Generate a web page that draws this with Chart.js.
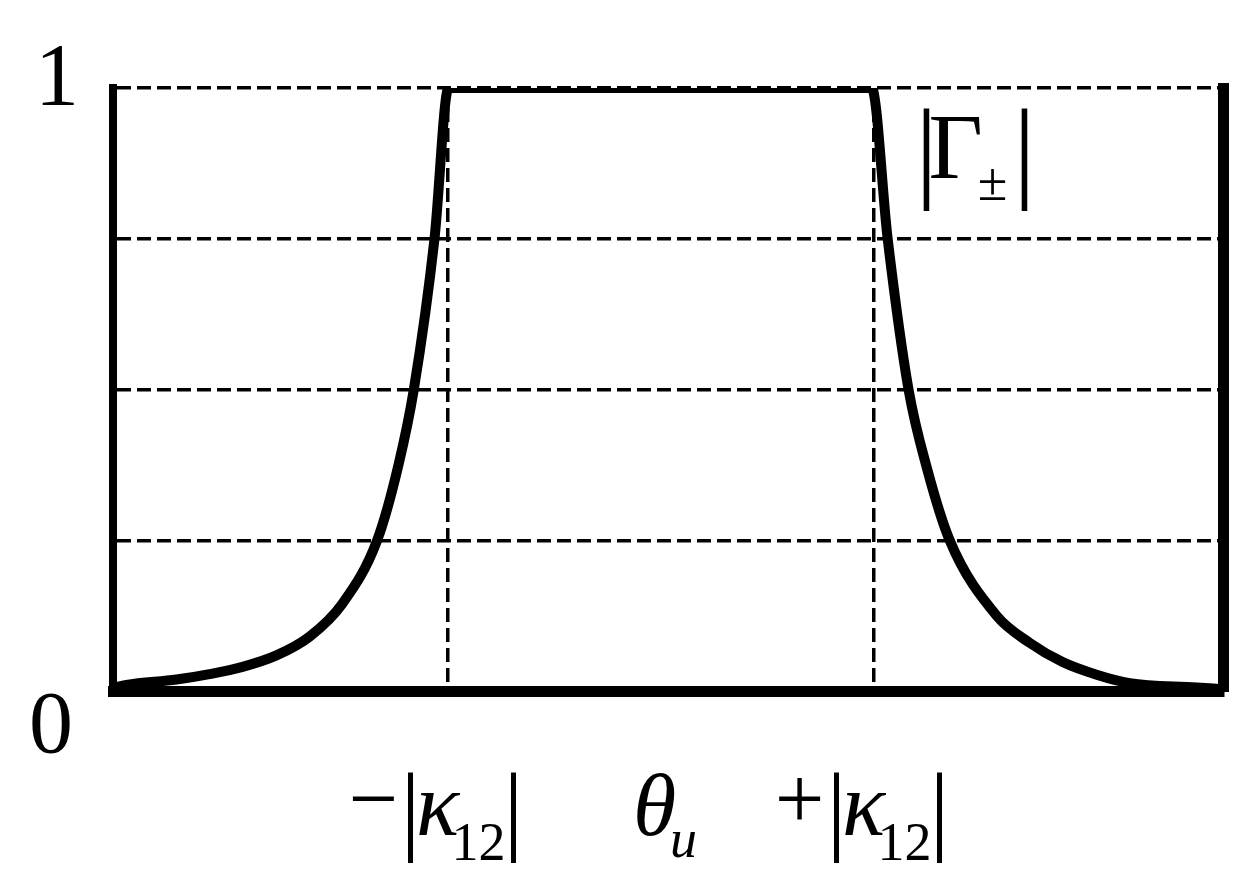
<!DOCTYPE html>
<html>
<head>
<meta charset="utf-8">
<title>|Γ±| vs θu</title>
<script src="https://cdn.jsdelivr.net/npm/chart.js@4.4.0/dist/chart.umd.min.js"></script>
<style>
    html, body { margin: 0; padding: 0; background: #fff; }
    #wrap { width: 1248px; height: 877px; }
</style>
</head>
<body>
<div id="wrap"><canvas id="gammaChart" width="1248" height="877"></canvas></div>
<script>
// Curve (x in units of |κ12|, y = |Γ±|)
const curveX = [-2.57, -2.507, -2.272, -2.117, -1.962, -1.803, -1.648, -1.493, -1.33, -1.23, -1.158, -1.061, -0.995,
                0.991, 1.066, 1.164, 1.25, 1.357, 1.577, 1.732, 1.887, 2.047, 2.202, 2.516, 2.634];
const curveY = [0.005, 0.010, 0.019, 0.028, 0.040, 0.059, 0.090, 0.145, 0.25, 0.375, 0.5, 0.75, 1.0,
                1.0, 0.75, 0.5, 0.37, 0.25, 0.125, 0.080, 0.048, 0.027, 0.013, 0.006, 0.003];

// Axis ranges and tick labels
const xMin = -2.57;
const xMax = 2.64;
const xGridValues = [-1, 1];
const xTickValues = [-1, 0, 1];
const xTickSigns = ['\u2212', '', '+'];
const xTickSymbols = ['\u03BA', '\u03B8', '\u03BA'];
const xTickSubs = ['12', 'u', '12'];
const xTickAbs = [true, false, true];
const yTickValues = [0, 1];
const yTickLabels = ['0', '1'];

// Curve label |Γ±|
const curveLabelMain = '\u0393';
const curveLabelSub = '\u00B1';
const curveLabelAt = [1.38, 0.88];

const SERIF = '"Liberation Serif", "DejaVu Serif", serif';

function drawText(ctx, text, x, y, font, align, baseline) {
    ctx.font = font;
    ctx.textAlign = align || 'center';
    ctx.textBaseline = baseline || 'alphabetic';
    ctx.fillText(text, x, y);
}

// Draws the math-style labels (ticks and the |Γ±| annotation)
const mathLabels = {
    id: 'mathLabels',
    afterDraw(chart) {
        const { ctx, scales: { x, y } } = chart;
        const base = y.getPixelForValue(0);
        ctx.save();
        ctx.fillStyle = '#000';

        // y tick labels
        yTickValues.forEach((v, i) => {
            const py = y.getPixelForValue(v);
            const dy = v === 0 ? 61 : 16;
            const dx = v === 0 ? -62 : -56;
            drawText(ctx, yTickLabels[i], chart.chartArea.left + dx, py + dy, '88px ' + SERIF);
        });

        // x tick labels
        xTickValues.forEach((v, i) => {
            const t = x.getPixelForValue(v);
            if (xTickAbs[i]) {
                drawText(ctx, xTickSigns[i], t - 74, base + 114, '88px ' + SERIF, 'center', 'middle');
                drawText(ctx, '|', t - 37, base + 125, '100px ' + SERIF, 'center', 'middle');
                drawText(ctx, xTickSymbols[i], t - 10, base + 144, 'italic 90px ' + SERIF);
                drawText(ctx, xTickSubs[i], t + 31, base + 169, '54px ' + SERIF);
                drawText(ctx, '|', t + 66, base + 125, '100px ' + SERIF, 'center', 'middle');
            } else {
                drawText(ctx, xTickSymbols[i], t - 6, base + 144, 'italic 88px ' + SERIF);
                drawText(ctx, xTickSubs[i], t + 23, base + 166, 'italic 54px ' + SERIF);
            }
        });

        // |Γ±|
        const gx = x.getPixelForValue(curveLabelAt[0]);
        const gy = y.getPixelForValue(curveLabelAt[1]);
        drawText(ctx, '|', gx - 28, gy - 3, '112px ' + SERIF, 'center', 'middle');
        drawText(ctx, curveLabelMain, gx + 1, gy + 18, '94px ' + SERIF);
        drawText(ctx, curveLabelSub, gx + 38, gy + 40, '54px ' + SERIF);
        drawText(ctx, '|', gx + 70, gy - 3, '112px ' + SERIF, 'center', 'middle');

        ctx.restore();
    }
};

const points = curveX.map((v, i) => ({ x: v, y: curveY[i] }));

new Chart(document.getElementById('gammaChart'), {
    type: 'line',
    data: {
        datasets: [{
            data: points,
            borderColor: '#000',
            borderWidth: 10,
            pointRadius: 0,
            cubicInterpolationMode: 'monotone',
            borderJoinStyle: 'round',
            borderCapStyle: 'round',
            fill: false
        }]
    },
    options: {
        responsive: false,
        animation: false,
        layout: {
            padding: { top: 88, left: 113, right: 25, bottom: 186 }
        },
        plugins: {
            legend: { display: false },
            tooltip: { enabled: false }
        },
        scales: {
            x: {
                type: 'linear',
                min: xMin,
                max: xMax,
                afterBuildTicks: (scale) => {
                    scale.ticks = xGridValues.map(v => ({ value: v }));
                },
                afterFit: (scale) => { scale.height = 0; },
                ticks: { display: false },
                grid: { color: '#000', lineWidth: 3.5, drawTicks: false },
                border: { display: true, color: '#000', width: 11, dash: [14, 6] }
            },
            y: {
                min: 0,
                max: 1,
                afterFit: (scale) => { scale.width = 0; },
                ticks: { display: false, stepSize: 0.25 },
                grid: {
                    color: (ctx) => (ctx.tick && ctx.tick.value === 0 ? 'rgba(0,0,0,0)' : '#000'),
                    lineWidth: 3.5,
                    drawTicks: false
                },
                border: { display: true, color: '#000', width: 8, dash: [14, 6] }
            },
            yRight: {
                position: 'right',
                min: 0,
                max: 1,
                afterFit: (scale) => { scale.width = 0; },
                ticks: { display: false },
                grid: { drawOnChartArea: false, drawTicks: false },
                border: { display: true, color: '#000', width: 11 }
            }
        }
    },
    plugins: [mathLabels]
});
</script>
</body>
</html>
